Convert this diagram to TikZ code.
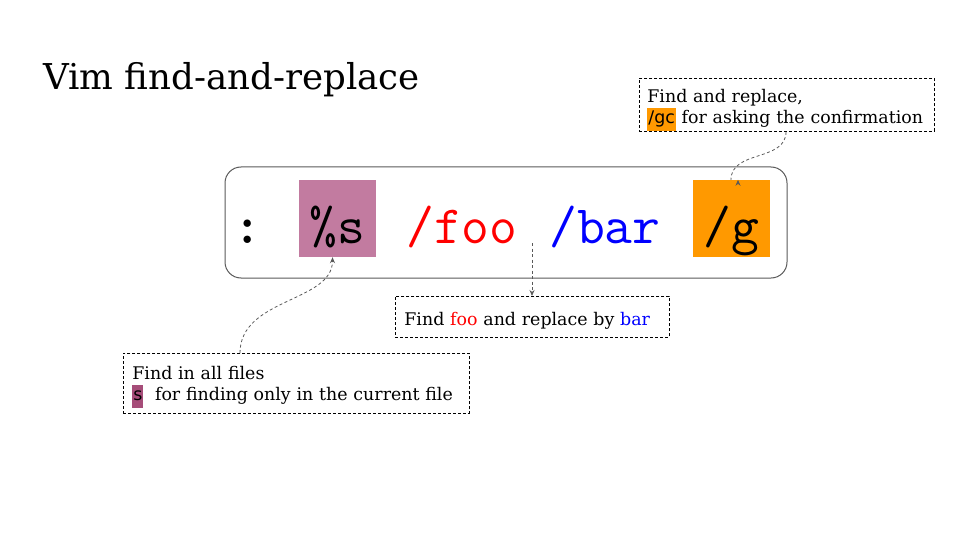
\documentclass[tikz,border=0pt]{standalone}
\usepackage{fontspec}
\setmainfont{DejaVu Serif}
\setsansfont{DejaVu Sans}
\usetikzlibrary{arrows.meta,positioning}
\definecolor{vimmagenta}{HTML}{C27BA0}
\definecolor{vimdarkmagenta}{HTML}{A64D79}
\definecolor{vimorange}{HTML}{FF9900}
\definecolor{pointergray}{HTML}{595959}
\newcommand{\hlbox}[2]{{\setlength{\fboxsep}{1pt}\colorbox{#1}{\strut\sffamily #2}}}
\begin{document}
\begin{tikzpicture}[x=1pt,y=-1pt,
    cmd/.style={font=\fontsize{54}{54}\selectfont\ttfamily,inner sep=0pt,
      text height=49pt,text depth=0pt},
    cmdbox/.style={cmd,minimum width=77pt,minimum height=77pt},
    note/.style={draw,line width=0.8pt,dash pattern=on 3pt off 2pt,
      font=\fontsize{17.4}{21.5}\selectfont,align=left,inner ysep=0pt,anchor=north west},
    pointer/.style={draw=pointergray,line width=0.8pt,dash pattern=on 3pt off 2.5pt,
      -{Stealth[length=6pt,width=5pt]}}]
  \useasboundingbox (0,0) rectangle (960,540);
  % title
  \node[anchor=base west,inner sep=0pt,font=\fontsize{35.6}{36}\selectfont] (title) at (43,90) {Vim find-and-replace};
  % command line
  \node[draw=pointergray,line width=1pt,rounded corners=16pt,minimum width=562pt,minimum height=111pt] (cmdline) at (506,222.5) {};
  \node[cmd,font=\fontsize{54}{54}\selectfont\ttfamily\bfseries] (colon) at (248,218.5) {:};
  \node[cmdbox,fill=vimmagenta] (range) at (337.5,218.5) {\%s};
  \node[cmd,text=red,anchor=west] (pattern) at (406,218.5) {/foo};
  \node[cmd,text=blue,anchor=west] (replacement) at (549,218.5) {/bar};
  \node[cmdbox,fill=vimorange] (flags) at (731,218.5) {/g};
  % notes
  \node[note,text width=279pt,inner xsep=8pt,minimum height=50pt] (flagsnote) at (639,78)
    {\rule{0pt}{24pt}Find and replace,\\\hlbox{vimorange}{/gc} for asking the confirmation};
  \node[note,text width=256pt,inner xsep=9pt,minimum height=41pt] (subnote) at (395,296)
    {\rule{0pt}{21pt}Find \textcolor{red}{foo} and replace by \textcolor{blue}{bar}};
  \node[note,text width=328pt,inner xsep=9pt,minimum height=60pt] (rangenote) at (123,353)
    {\rule{0pt}{21pt}Find in all files\\\hlbox{vimdarkmagenta}{s}\ \ for finding only in the current file};
  % pointers
  \coordinate (subfrom) at (532,243);
  \draw[pointer] (flagsnote.south west) ++(147,0) .. controls +(0,30) and +(0,-30) .. (flags.north) ++(7,0);
  \draw[pointer] (subfrom) -- (subfrom |- subnote.north);
  \draw[pointer] (rangenote.north west) ++(117,0) .. controls +(0,-55) and +(0,45) .. ([xshift=-5pt]range.south);
\end{tikzpicture}
\end{document}
